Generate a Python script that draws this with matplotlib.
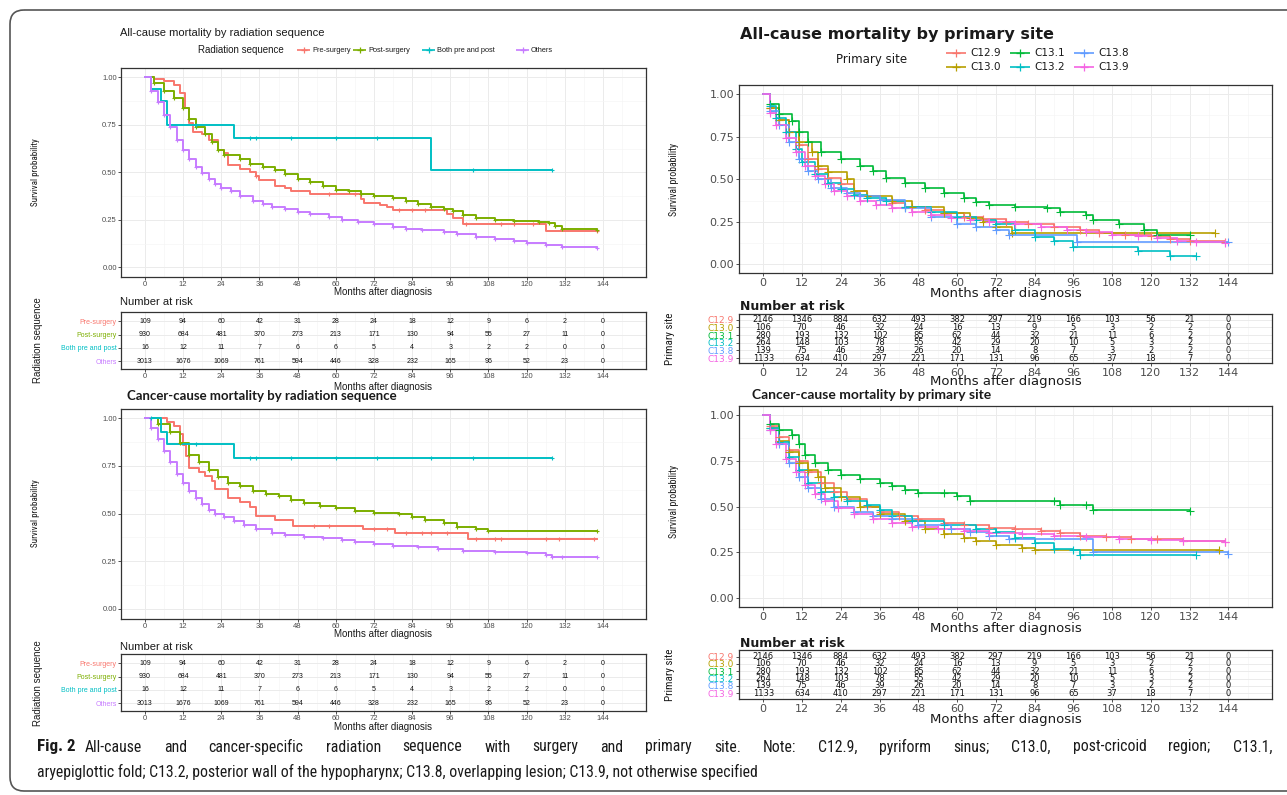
import numpy as np
import matplotlib
matplotlib.use('Agg')
import matplotlib.pyplot as plt
from matplotlib import font_manager as fm
from matplotlib.patches import FancyBboxPatch

# ---------------- data ----------------
months = [0, 12, 24, 36, 48, 60, 72, 84, 96, 108, 120, 132, 144]

rad_groups = ['Pre-surgery', 'Post-surgery', 'Both pre and post', 'Others']
rad_colors = ['#F8766D', '#7CAE00', '#00BFC4', '#C77CFF']
site_groups = ['C12.9', 'C13.0', 'C13.1', 'C13.2', 'C13.8', 'C13.9']
site_colors = ['#F8766D', '#B79F00', '#00BA38', '#00BFC4', '#619CFF', '#F564E3']

risk_pre = [109, 94, 60, 42, 31, 28, 24, 18, 12, 9, 6, 2, 0]
risk_post = [930, 684, 481, 370, 273, 213, 171, 130, 94, 55, 27, 11, 0]
risk_both = [16, 12, 11, 7, 6, 6, 5, 4, 3, 2, 2, 0, 0]
risk_others = [3013, 1676, 1069, 761, 594, 446, 328, 232, 165, 96, 52, 23, 0]

risk_c129 = [2146, 1346, 884, 632, 493, 382, 297, 219, 166, 103, 56, 21, 0]
risk_c130 = [106, 70, 46, 32, 24, 16, 13, 9, 5, 3, 2, 2, 0]
risk_c131 = [280, 193, 132, 102, 85, 62, 44, 32, 21, 11, 6, 2, 0]
risk_c132 = [264, 148, 103, 78, 55, 42, 29, 20, 10, 5, 3, 2, 0]
risk_c138 = [139, 75, 46, 39, 26, 20, 14, 8, 7, 3, 2, 2, 0]
risk_c139 = [1133, 634, 410, 297, 221, 171, 131, 96, 65, 37, 18, 7, 0]

# All-cause mortality by radiation sequence (time in months, survival)
ac_pre_t = [0, 3, 6, 9, 11, 12.5, 14, 15, 18, 20, 23, 25, 26, 30, 33, 35, 36, 41, 44, 46, 52, 68, 69, 74, 76, 78, 95, 97, 100, 126, 142]
ac_pre_s = [1.0, 0.99, 0.98, 0.96, 0.92, 0.84, 0.76, 0.71, 0.70, 0.67, 0.62, 0.60, 0.54, 0.52, 0.50, 0.48, 0.46, 0.43, 0.42, 0.40, 0.385, 0.36, 0.34, 0.33, 0.32, 0.30, 0.28, 0.26, 0.23, 0.19, 0.19]
ac_pre_cens = [35, 58, 66, 80, 84, 88, 101, 112, 116, 122, 142]
ac_post_t = [0, 3, 6, 9, 12, 14, 16, 19, 21, 23, 25, 30, 33, 37, 41, 44, 48, 52, 56, 60, 64, 68, 72, 78, 82, 86, 90, 94, 97, 100, 104, 110, 116, 124, 127, 129, 131, 142]
ac_post_s = [1.0, 0.97, 0.93, 0.89, 0.84, 0.78, 0.74, 0.70, 0.66, 0.62, 0.59, 0.57, 0.545, 0.53, 0.51, 0.49, 0.465, 0.45, 0.43, 0.41, 0.40, 0.385, 0.375, 0.365, 0.35, 0.335, 0.32, 0.31, 0.295, 0.275, 0.26, 0.25, 0.245, 0.24, 0.235, 0.22, 0.20, 0.195]
ac_both_t = [0, 2, 5, 7, 28, 90, 128]
ac_both_s = [1.0, 0.94, 0.875, 0.75, 0.68, 0.51, 0.51]
ac_both_cens = [16, 33, 35, 46, 60, 73, 103, 128]
ac_oth_t = [0, 2, 4, 6, 8, 10, 12, 14, 16, 18, 20, 22, 24, 27, 30, 34, 37, 40, 44, 48, 52, 58, 62, 67, 72, 78, 82, 87, 94, 98, 104, 110, 116, 120, 126, 131, 142]
ac_oth_s = [1.0, 0.93, 0.87, 0.80, 0.74, 0.67, 0.62, 0.57, 0.53, 0.495, 0.465, 0.44, 0.42, 0.40, 0.375, 0.35, 0.335, 0.32, 0.305, 0.29, 0.28, 0.265, 0.25, 0.24, 0.23, 0.215, 0.205, 0.195, 0.185, 0.175, 0.16, 0.15, 0.14, 0.13, 0.12, 0.11, 0.105]

# Cancer-cause mortality by radiation sequence
cc_pre_t = [0, 6, 7, 9, 11, 12, 13, 14, 17, 19, 21, 22, 26, 30, 33, 35, 41, 46.5, 68.5, 78.5, 101.5, 142]
cc_pre_s = [1.0, 1.0, 0.98, 0.96, 0.92, 0.86, 0.80, 0.74, 0.72, 0.70, 0.67, 0.63, 0.58, 0.56, 0.535, 0.49, 0.465, 0.435, 0.42, 0.40, 0.365, 0.365]
cc_pre_cens = [53, 58, 72, 76, 82, 87, 90, 95, 104, 110, 112, 126, 130, 141]
cc_post_t = [0, 4, 8, 11, 14, 17, 20, 23, 26, 30, 34, 38, 42, 46, 50, 55, 60, 66, 72, 80, 84, 88, 94, 98, 104, 108, 142]
cc_post_s = [1.0, 0.97, 0.93, 0.87, 0.81, 0.77, 0.73, 0.69, 0.66, 0.645, 0.62, 0.605, 0.59, 0.57, 0.555, 0.54, 0.53, 0.515, 0.505, 0.50, 0.48, 0.465, 0.45, 0.43, 0.42, 0.41, 0.41]
cc_both_t = [0, 5, 7, 28, 128]
cc_both_s = [1.0, 0.93, 0.865, 0.79, 0.79]
cc_both_cens = [2, 16, 33, 35, 46, 60, 73, 90, 103, 128]
cc_oth_t = [0, 2, 4, 6, 8, 10, 12, 14, 16, 18, 20, 22, 25, 28, 31, 35, 40, 44, 50, 56, 62, 66, 72, 78, 86, 92, 100, 110, 120, 126, 128, 131, 142]
cc_oth_s = [1.0, 0.95, 0.89, 0.83, 0.77, 0.71, 0.66, 0.62, 0.58, 0.55, 0.52, 0.50, 0.48, 0.46, 0.44, 0.42, 0.40, 0.39, 0.38, 0.37, 0.36, 0.35, 0.34, 0.33, 0.325, 0.315, 0.305, 0.30, 0.295, 0.285, 0.275, 0.27, 0.27]

# All-cause mortality by primary site
as_c129_t = [0, 2, 5, 8, 11, 14, 17, 20, 24, 28, 32, 36, 40, 44, 50, 56, 62, 68, 75, 82, 90, 98, 104, 112, 120, 126, 132, 143]
as_c129_s = [1.0, 0.92, 0.85, 0.78, 0.70, 0.62, 0.56, 0.51, 0.47, 0.43, 0.40, 0.38, 0.36, 0.34, 0.32, 0.30, 0.28, 0.265, 0.25, 0.235, 0.22, 0.20, 0.185, 0.175, 0.165, 0.15, 0.135, 0.13]
as_c130_t = [0, 2, 5, 8, 11, 15, 17, 20, 26, 28, 32, 40, 46, 56, 64, 68, 72, 77, 140]
as_c130_s = [1.0, 0.92, 0.85, 0.78, 0.72, 0.66, 0.58, 0.54, 0.50, 0.43, 0.40, 0.37, 0.34, 0.30, 0.27, 0.25, 0.22, 0.185, 0.185]
as_c131_t = [0, 2, 5, 9, 11, 14, 18, 24, 30, 34, 38, 44, 50, 56, 62, 66, 70, 78, 88, 92, 100, 102, 110, 118, 122, 132]
as_c131_s = [1.0, 0.94, 0.88, 0.84, 0.78, 0.72, 0.66, 0.62, 0.58, 0.55, 0.51, 0.48, 0.45, 0.42, 0.39, 0.365, 0.35, 0.335, 0.33, 0.31, 0.29, 0.26, 0.235, 0.20, 0.17, 0.17]
as_c132_t = [0, 2, 4, 7, 10, 12, 16, 20, 24, 28, 32, 38, 44, 52, 60, 66, 72, 78, 84, 90, 96, 116, 126, 134]
as_c132_s = [1.0, 0.93, 0.86, 0.78, 0.68, 0.60, 0.53, 0.48, 0.44, 0.41, 0.39, 0.37, 0.34, 0.31, 0.28, 0.26, 0.24, 0.20, 0.16, 0.14, 0.10, 0.08, 0.05, 0.05]
as_c138_t = [0, 2, 5, 8, 11, 14, 17, 21, 26, 30, 36, 44, 52, 60, 66, 72, 76, 97, 144]
as_c138_s = [1.0, 0.90, 0.82, 0.72, 0.62, 0.55, 0.50, 0.45, 0.42, 0.40, 0.38, 0.33, 0.28, 0.24, 0.22, 0.20, 0.17, 0.13, 0.13]
as_c139_t = [0, 2, 4, 7, 10, 13, 16, 19, 22, 26, 30, 35, 40, 46, 52, 58, 64, 70, 78, 86, 94, 100, 108, 116, 122, 128, 134, 143]
as_c139_s = [1.0, 0.89, 0.82, 0.74, 0.66, 0.58, 0.52, 0.47, 0.43, 0.40, 0.37, 0.35, 0.33, 0.31, 0.29, 0.275, 0.26, 0.25, 0.235, 0.22, 0.205, 0.19, 0.175, 0.165, 0.155, 0.14, 0.13, 0.125]

# Cancer-cause mortality by primary site
cs_c129_t = [0, 2, 5, 8, 11, 14, 18, 22, 26, 32, 36, 42, 48, 56, 62, 70, 78, 86, 92, 98, 106, 114, 122, 130, 143]
cs_c129_s = [1.0, 0.94, 0.88, 0.81, 0.75, 0.69, 0.63, 0.58, 0.54, 0.50, 0.47, 0.45, 0.43, 0.41, 0.40, 0.385, 0.375, 0.365, 0.355, 0.34, 0.335, 0.325, 0.32, 0.31, 0.305]
cs_c130_t = [0, 2, 5, 8, 11, 14, 17, 19, 24, 30, 36, 44, 50, 56, 62, 66, 72, 80, 84, 141]
cs_c130_s = [1.0, 0.93, 0.86, 0.80, 0.74, 0.70, 0.66, 0.60, 0.55, 0.50, 0.46, 0.42, 0.38, 0.35, 0.33, 0.31, 0.29, 0.275, 0.26, 0.26]
cs_c131_t = [0, 2, 5, 9, 11, 13, 16, 20, 24, 30, 36, 40, 44, 48, 56, 60, 64, 90, 92, 100, 102, 132]
cs_c131_s = [1.0, 0.95, 0.92, 0.89, 0.84, 0.78, 0.74, 0.70, 0.67, 0.65, 0.63, 0.61, 0.59, 0.575, 0.575, 0.56, 0.53, 0.53, 0.51, 0.51, 0.48, 0.475]
cs_c132_t = [0, 2, 5, 8, 11, 14, 18, 22, 26, 32, 36, 40, 46, 56, 66, 72, 78, 84, 90, 96, 98, 134]
cs_c132_s = [1.0, 0.93, 0.85, 0.77, 0.70, 0.63, 0.58, 0.55, 0.53, 0.51, 0.48, 0.45, 0.42, 0.40, 0.38, 0.36, 0.33, 0.30, 0.27, 0.26, 0.235, 0.235]
cs_c138_t = [0, 2, 5, 8, 11, 14, 18, 22, 28, 34, 40, 48, 58, 64, 70, 76, 102, 144]
cs_c138_s = [1.0, 0.92, 0.84, 0.74, 0.66, 0.60, 0.54, 0.50, 0.47, 0.45, 0.43, 0.40, 0.38, 0.36, 0.34, 0.32, 0.25, 0.24]
cs_c139_t = [0, 2, 4, 7, 10, 13, 16, 19, 23, 28, 34, 40, 46, 54, 62, 70, 80, 90, 100, 110, 120, 130, 143]
cs_c139_s = [1.0, 0.92, 0.84, 0.76, 0.69, 0.62, 0.57, 0.53, 0.49, 0.46, 0.43, 0.41, 0.39, 0.375, 0.365, 0.355, 0.35, 0.34, 0.335, 0.325, 0.315, 0.31, 0.305]

caption_bold = 'Fig. 2'
caption_line1 = ('All-cause and cancer-specific radiation sequence with surgery and primary site. '
                 'Note: C12.9, pyriform sinus; C13.0, post-cricoid region; C13.1,')
caption_line2 = ('aryepiglottic fold; C13.2, posterior wall of the hypopharynx; C13.8, '
                 'overlapping lesion; C13.9, not otherwise specified')

# ---------------- figure ----------------
W, H = 1287, 795
fig = plt.figure(figsize=(W / 100, H / 100), dpi=100)
fig.patch.set_facecolor('white')
renderer = fig.canvas.get_renderer()

names = {f.name for f in fm.fontManager.ttflist}
SANS = 'Liberation Sans'
WIDE = 'DejaVu Sans'
CAL = 'Lato' if 'Lato' in names else SANS
narrow_cands = ['Liberation Sans Narrow', 'Noto Sans ExtraCondensed', 'Noto Sans Condensed',
                'Roboto Condensed', 'Open Sans Condensed', 'Arial Narrow', 'DejaVu Sans Condensed']
NARROW_KW = None
for c in narrow_cands:
    if c in names:
        NARROW_KW = dict(family=c)
        break
if NARROW_KW is None:
    if any(f.name == 'DejaVu Sans' and 'condensed' in str(f.stretch) for f in fm.fontManager.ttflist):
        NARROW_KW = dict(family='DejaVu Sans', stretch='condensed')
    else:
        NARROW_KW = dict(family=SANS)


def ax_px(x0, y0, x1, y1):
    return fig.add_axes([x0 / W, 1 - y1 / H, (x1 - x0) / W, (y1 - y0) / H])


minor_x = [m + 6 for m in months]


def style_ax(ax, fam, fs, ticklen):
    ax.set_xlim(-7.5, 157.5)
    ax.set_xticks(months)
    ax.set_xticks(minor_x, minor=True)
    ax.tick_params(which='major', length=ticklen, width=0.6, color='#333333',
                   labelsize=fs, labelcolor='#4D4D4D', pad=1)
    ax.tick_params(which='minor', length=0)
    for sp in ax.spines.values():
        sp.set_color('#333333')
        sp.set_linewidth(0.9)
    ax.grid(which='major', color='#EBEBEB', lw=0.7)
    ax.grid(which='minor', color='#F5F5F5', lw=0.5)
    ax.set_axisbelow(True)
    for lbl in ax.get_xticklabels() + ax.get_yticklabels():
        lbl.set_family(fam)


def km_panel(box, curves, colors, fam, fs, ms, lw, ticklen):
    ax = ax_px(*box)
    ax.set_ylim(-0.05, 1.05)
    ax.set_yticks([0, 0.25, 0.5, 0.75, 1.0])
    ax.set_yticklabels(['0.00', '0.25', '0.50', '0.75', '1.00'])
    ax.set_yticks([0.125, 0.375, 0.625, 0.875], minor=True)
    style_ax(ax, fam, fs, ticklen)
    for (t, s, cens), c in zip(curves, colors):
        t = np.asarray(t, float)
        s = np.asarray(s, float)
        ax.step(t, s, where='post', color=c, lw=lw, zorder=3)
        ct = np.asarray(cens if cens is not None else t[1:], float)
        idx = np.searchsorted(t, ct, side='right') - 1
        ax.plot(ct, s[idx], '+', color=c, ms=ms, mew=0.8, zorder=4)
    return ax


def risk_table(box, ylim, rows, labels, colors, fam, fs_tick, fs_num, fs_lab, ticklen):
    ax = ax_px(*box)
    n = len(rows)
    ax.set_ylim(*ylim)
    ax.set_yticks(list(range(1, n + 1)))
    ax.set_yticklabels(labels)
    style_ax(ax, fam, fs_tick, ticklen)
    for lbl, c in zip(ax.get_yticklabels(), colors):
        lbl.set_color(c)
        lbl.set_fontsize(fs_lab)
    for i, r in enumerate(rows):
        for m, v in zip(months, r):
            ax.text(m, i + 1, str(v), ha='center', va='center', fontsize=fs_num,
                    family=fam, color='#111111')
    return ax


# ---- top-left
km_panel((121, 67.8, 646, 277.0),
         [(ac_pre_t, ac_pre_s, ac_pre_cens), (ac_post_t, ac_post_s, None),
          (ac_both_t, ac_both_s, ac_both_cens), (ac_oth_t, ac_oth_s, None)],
         rad_colors, SANS, 5.5, 3.5, 1.4, 2)
risk_table((121, 312, 646, 369), (4.56, 0.33),
           [risk_pre, risk_post, risk_both, risk_others], rad_groups, rad_colors,
           SANS, 5.5, 5, 5, 2)
# ---- bottom-left
km_panel((121, 408.8, 646, 618.5),
         [(cc_pre_t, cc_pre_s, cc_pre_cens), (cc_post_t, cc_post_s, None),
          (cc_both_t, cc_both_s, cc_both_cens), (cc_oth_t, cc_oth_s, None)],
         rad_colors, SANS, 5.5, 3.5, 1.4, 2)
risk_table((121, 654, 646, 711), (4.56, 0.33),
           [risk_pre, risk_post, risk_both, risk_others], rad_groups, rad_colors,
           SANS, 5.5, 5, 5, 2)
# ---- top-right
site_all = [(as_c129_t, as_c129_s, None), (as_c130_t, as_c130_s, None), (as_c131_t, as_c131_s, None),
            (as_c132_t, as_c132_s, None), (as_c138_t, as_c138_s, None), (as_c139_t, as_c139_s, None)]
km_panel((739, 85.5, 1272, 273.0), site_all, site_colors, WIDE, 8, 5.5, 1.2, 2.5)
risk_table((739, 313.5, 1272, 363), (6.63, 0.19),
           [risk_c129, risk_c130, risk_c131, risk_c132, risk_c138, risk_c139], site_groups, site_colors,
           WIDE, 8, 6, 6.5, 2.5)
# ---- bottom-right
site_cc = [(cs_c129_t, cs_c129_s, None), (cs_c130_t, cs_c130_s, None), (cs_c131_t, cs_c131_s, None),
           (cs_c132_t, cs_c132_s, None), (cs_c138_t, cs_c138_s, None), (cs_c139_t, cs_c139_s, None)]
km_panel((739, 405.9, 1272, 607.2), site_cc, site_colors, WIDE, 8, 5.5, 1.2, 2.5)
risk_table((739, 650, 1272, 699), (6.77, 0.10),
           [risk_c129, risk_c130, risk_c131, risk_c132, risk_c138, risk_c139], site_groups, site_colors,
           WIDE, 8, 6, 6.5, 2.5)

# ---------------- overlay (texts, legends, frame) ----------------
ov = fig.add_axes([0, 0, 1, 1], zorder=10)
ov.set_xlim(0, W)
ov.set_ylim(H, 0)
ov.axis('off')


def T(x, y, s, **kw):
    kw.setdefault('va', 'center')
    kw.setdefault('color', '#1A1A1A')
    return ov.text(x, y, s, **kw)


def key(x0, x1, y, c, ms):
    ov.plot([x0, x1], [y, y], color=c, lw=1.2, solid_capstyle='butt')
    ov.plot([(x0 + x1) / 2], [y], '+', color=c, ms=ms, mew=0.9)


# titles
T(120, 33, 'All-cause mortality by radiation sequence', family=SANS, fontsize=8)
T(127, 396, 'Cancer-cause mortality by radiation sequence', family=CAL, fontsize=9.5, weight='bold')
T(740, 34, 'All-cause mortality by primary site', family=WIDE, fontsize=11.5, weight='bold')
T(752, 395, 'Cancer-cause mortality by primary site', family=CAL, fontsize=10, weight='bold')

# top-left legend
T(198, 50, 'Radiation sequence', family=SANS, fontsize=7)
leg_keys = [297, 353, 422, 516]
for g, c, kx in zip(rad_groups, rad_colors, leg_keys):
    key(kx, kx + 13, 50, c, 4)
    T(kx + 15, 50, g, family=SANS, fontsize=5.3)

# top-right legend
T(836, 60, 'Primary site', family=WIDE, fontsize=8.5)
site_key_x = [946, 946, 1010, 1010, 1074, 1074]
site_key_y = [53, 67, 53, 67, 53, 67]
for g, c, kx, ky in zip(site_groups, site_colors, site_key_x, site_key_y):
    key(kx, kx + 20, ky, c, 6)
    T(kx + 24, ky, g, family=WIDE, fontsize=7.5)

# axis labels
for y in (292, 387, 634, 727):
    T(383.5, y, 'Months after diagnosis', family=SANS, fontsize=7, ha='center')
for y in (293, 382, 628.5, 720):
    T(1005.5, y, 'Months after diagnosis', family=WIDE, fontsize=9.5, ha='center')
T(35, 172, 'Survival probability', fontsize=6.5, rotation=90, ha='center', **NARROW_KW)
T(35, 513, 'Survival probability', fontsize=6.5, rotation=90, ha='center', **NARROW_KW)
T(674, 180, 'Survival probability', fontsize=7, rotation=90, ha='center', **NARROW_KW)
T(674, 502, 'Survival probability', fontsize=7, rotation=90, ha='center', **NARROW_KW)
T(38, 340, 'Radiation sequence', family=SANS, fontsize=7, rotation=90, ha='center')
T(38, 683, 'Radiation sequence', family=SANS, fontsize=7, rotation=90, ha='center')
T(670, 339, 'Primary site', fontsize=8, rotation=90, ha='center', **NARROW_KW)
T(670, 675, 'Primary site', fontsize=8, rotation=90, ha='center', **NARROW_KW)

# number at risk titles
T(120, 302, 'Number at risk', family=SANS, fontsize=8)
T(120, 647.5, 'Number at risk', family=SANS, fontsize=8)
T(740, 306, 'Number at risk', family=WIDE, fontsize=9, weight='bold')
T(740, 643.5, 'Number at risk', family=WIDE, fontsize=9, weight='bold')

# caption (justified first line)
c2 = T(37, 772, caption_line2, fontsize=11, **NARROW_KW)
w2 = c2.get_window_extent(renderer).width
fs_cap = 11 * (758 - 37) / w2
c2.set_fontsize(fs_cap)
fb = T(37, 747, caption_bold, fontsize=fs_cap * 1.08, weight='bold', **NARROW_KW)
x = 37 + fb.get_window_extent(renderer).width + 9
words = caption_line1.split(' ')
objs = [T(0, 747, w, fontsize=fs_cap, **NARROW_KW) for w in words]
widths = [o.get_window_extent(renderer).width for o in objs]
gap = (1272 - x - sum(widths)) / (len(words) - 1)
for o, w in zip(objs, widths):
    o.set_x(x)
    x += w + gap

# frame
frame = FancyBboxPatch((10, 10), 1400, 781, boxstyle='round,pad=0,rounding_size=14',
                       fc='none', ec='#555555', lw=1.2, clip_on=False)
ov.add_patch(frame)

fig.savefig('out.png', dpi=100, facecolor='white')
